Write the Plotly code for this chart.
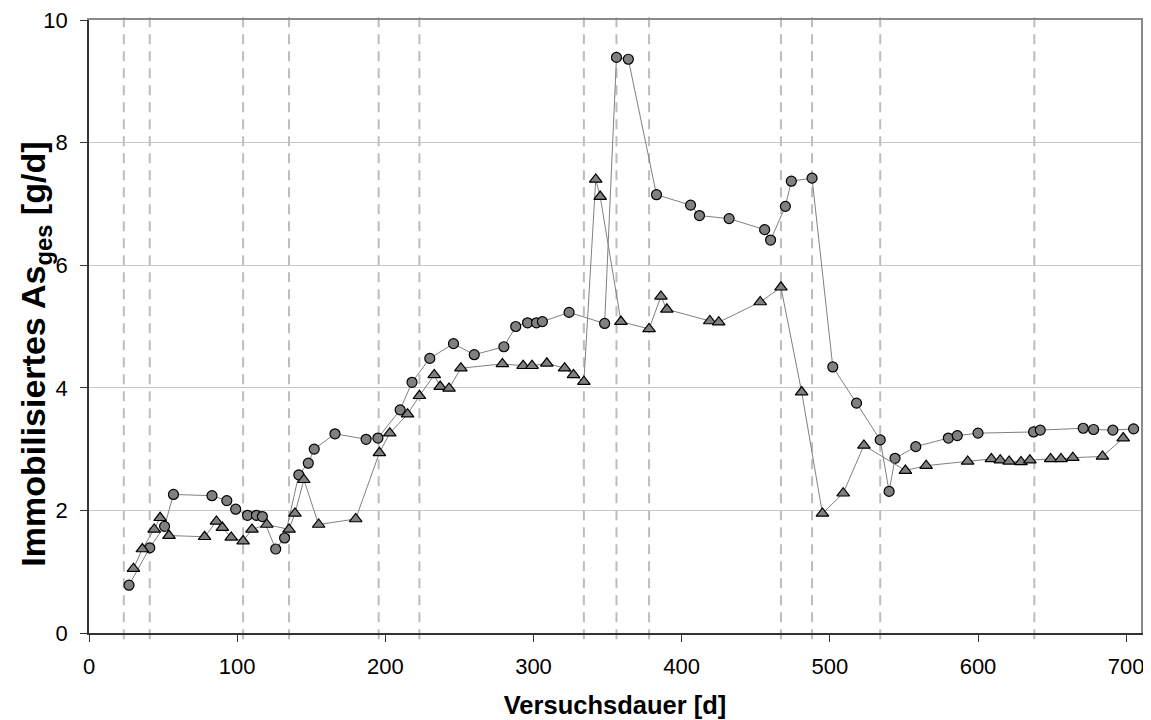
import plotly.graph_objects as go

# Series 1 (circles)
circ_x = [27, 41, 51, 57, 83, 93, 99, 107, 113, 117, 126, 132, 141.6, 148, 152, 166,
          187, 195, 210, 218, 230, 246, 260, 280, 288, 296, 302, 306, 324, 348,
          356, 364, 383, 406, 412, 432, 456, 460, 470, 474, 488, 502, 518, 534,
          540, 544, 558, 580, 586, 600, 637.5, 642, 671, 678, 691, 705]
circ_y = [0.78, 1.39, 1.74, 2.26, 2.24, 2.16, 2.02, 1.92, 1.92, 1.90, 1.37, 1.55, 2.58, 2.77, 3.00, 3.25,
          3.16, 3.18, 3.64, 4.09, 4.48, 4.72, 4.54, 4.67, 5.00, 5.06, 5.06, 5.08, 5.23, 5.05,
          9.39, 9.36, 7.15, 6.98, 6.81, 6.76, 6.58, 6.41, 6.96, 7.37, 7.42, 4.34, 3.75, 3.15,
          2.31, 2.85, 3.04, 3.18, 3.22, 3.26, 3.28, 3.31, 3.34, 3.32, 3.31, 3.33]

# Series 2 (triangles)
tri_x = [30, 36, 44, 48, 54, 78, 86, 90, 96, 104, 110, 120, 135, 139, 145, 155,
         180, 196, 203, 215, 223, 233, 237, 243, 251, 279, 293, 299, 309, 321, 327, 334,
         342, 345, 359, 378, 386, 390, 419, 425, 453, 467, 481, 495, 509, 523,
         551, 565, 593, 609, 615, 621, 629, 635, 649, 656, 664, 684, 698]
tri_y = [1.05, 1.37, 1.69, 1.88, 1.59, 1.57, 1.82, 1.72, 1.56, 1.50, 1.69, 1.77, 1.69, 1.95, 2.50, 1.77,
         1.86, 2.94, 3.26, 3.57, 3.87, 4.21, 4.02, 3.99, 4.32, 4.39, 4.36, 4.36, 4.40, 4.32, 4.21, 4.10,
         7.40, 7.12, 5.08, 4.96, 5.49, 5.28, 5.09, 5.07, 5.40, 5.64, 3.93, 1.95, 2.28, 3.06,
         2.65, 2.73, 2.80, 2.84, 2.82, 2.80, 2.79, 2.82, 2.84, 2.84, 2.86, 2.88, 3.18]

# Vertical dashed markers (days)
phase_days = [23.5, 41, 104, 135, 195.5, 223, 334, 356, 378, 467, 488, 534, 638]

x_ticks = [0, 100, 200, 300, 400, 500, 600, 700]
y_ticks = [0, 2, 4, 6, 8, 10]
X_RANGE = [0, 710]
Y_RANGE = [0, 10]

X_TITLE = "Versuchsdauer [d]"
Y_TITLE = "Immobilisiertes As<sub>ges</sub> [g/d]"

FONT = "Liberation Sans, Arial, sans-serif"

fig = go.Figure()

for d in phase_days:
    fig.add_shape(type="line", xref="x", yref="paper", x0=d, x1=d, y0=-0.01, y1=1.008,
                  line=dict(color="#bdbdbd", width=2, dash="10px,7px"), layer="below")

fig.add_trace(go.Scatter(
    x=circ_x, y=circ_y, mode="lines+markers",
    line=dict(color="#808080", width=1),
    marker=dict(symbol="circle", size=10, color="#808080", line=dict(color="#000000", width=1.2)),
    showlegend=False, cliponaxis=False))

fig.add_trace(go.Scatter(
    x=tri_x, y=tri_y, mode="lines+markers",
    line=dict(color="#808080", width=1),
    marker=dict(symbol="triangle-up", size=11, color="#808080", line=dict(color="#000000", width=1.2)),
    showlegend=False, cliponaxis=False))

# invisible trace to activate the frame axes (top / right border)
fig.add_trace(go.Scatter(x=[None], y=[None], xaxis="x2", yaxis="y2",
                         showlegend=False, hoverinfo="skip"))

# y-axis title as rotated annotation
fig.add_annotation(text=Y_TITLE, xref="paper", yref="paper", x=-0.0517, y=0.455,
                   xanchor="center", yanchor="middle", textangle=-90, showarrow=False,
                   font=dict(family=FONT, size=34, weight="bold", color="black"))

fig.update_layout(
    width=1151, height=720,
    margin=dict(l=81, r=18, t=12, b=95),
    paper_bgcolor="white", plot_bgcolor="white",
    font=dict(family=FONT, size=22, color="black"),
    xaxis=dict(
        range=X_RANGE, tickvals=x_ticks, ticks="outside", ticklen=7, tickcolor="#333",
        showline=True, linecolor="#333", linewidth=1.5, showgrid=False, zeroline=False,
        automargin=False, ticklabelstandoff=6, ticklabeloverflow="allow",
        tickfont=dict(family=FONT, size=22),
        title=dict(text=X_TITLE, font=dict(family=FONT, size=25.5, weight="bold"), standoff=18),
    ),
    yaxis=dict(
        range=Y_RANGE, tickvals=y_ticks, ticks="outside", ticklen=7, tickcolor="#333",
        showline=True, linecolor="#333", linewidth=1.5,
        showgrid=True, gridcolor="#c8c8c8", gridwidth=1, zeroline=False,
        automargin=False, ticklabelstandoff=8, ticklabeloverflow="allow",
        tickfont=dict(family=FONT, size=22),
    ),
    xaxis2=dict(overlaying="x", side="top", range=X_RANGE, showline=True, linecolor="#8a8a8a",
                linewidth=2, showticklabels=False, ticks="", showgrid=False, zeroline=False,
                automargin=False),
    yaxis2=dict(overlaying="y", side="right", range=Y_RANGE, showline=True, linecolor="#8a8a8a",
                linewidth=2, showticklabels=False, ticks="", showgrid=False, zeroline=False,
                automargin=False),
)

fig.write_html("out.html")
